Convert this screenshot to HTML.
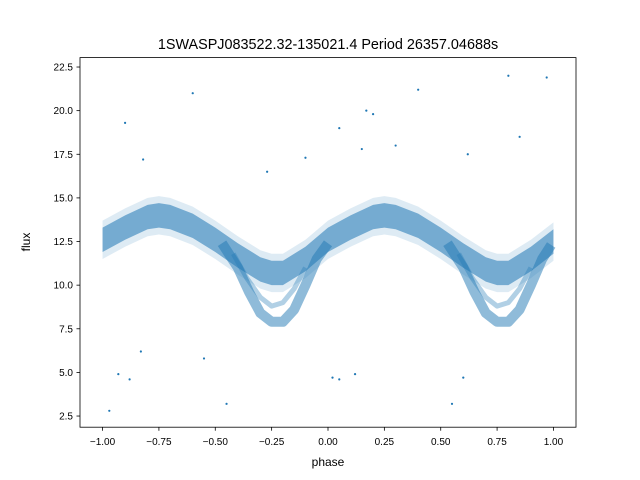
<!DOCTYPE html>
<html><head><meta charset="utf-8">
<style>
body{margin:0;background:#fff;}
svg{display:block;font-family:"Liberation Sans","DejaVu Sans",sans-serif;}
</style></head>
<body>
<svg id="chart" width="640" height="480" viewBox="0 0 640 480">
<rect width="640" height="480" fill="#fff"/>
<text x="328" y="49" font-size="14.4" text-anchor="middle">1SWASPJ083522.32-135021.4 Period 26357.04688s</text>
<defs><clipPath id="clip"><rect x="80" y="57.6" width="496" height="369.6"/></clipPath></defs>
<g id="marks" clip-path="url(#clip)"></g>
<rect x="80" y="57.6" width="496" height="369.6" fill="none" stroke="#000" stroke-width="0.8"/>
<g id="xaxis"></g>
<g id="yaxis"></g>
<text x="328" y="466" font-size="12" text-anchor="middle">phase</text>
<text x="0" y="0" font-size="12" text-anchor="middle" transform="translate(30,242) rotate(-90)">flux</text>
</svg>
<script>
const xTicks=[-1.0,-0.75,-0.5,-0.25,0.0,0.25,0.5,0.75,1.0];
const xTickLabels=["−1.00","−0.75","−0.50","−0.25","0.00","0.25","0.50","0.75","1.00"];
const yTicks=[2.5,5.0,7.5,10.0,12.5,15.0,17.5,20.0,22.5];
const yTickLabels=["2.5","5.0","7.5","10.0","12.5","15.0","17.5","20.0","22.5"];
const upperPhase=[-1.0,-0.9,-0.8,-0.75,-0.7,-0.6,-0.5,-0.4,-0.3,-0.25,-0.2,-0.1,0.0,0.1,0.2,0.25,0.3,0.4,0.5,0.6,0.7,0.75,0.8,0.9,1.0];
const upperFlux=[12.6,13.3,13.9,14.0,13.9,13.4,12.6,11.7,10.9,10.7,10.7,11.5,12.6,13.3,13.9,14.0,13.9,13.4,12.6,11.7,10.9,10.7,10.7,11.5,12.5];
const lowerPhaseA=[-0.47,-0.4,-0.35,-0.3,-0.25,-0.2,-0.15,-0.1,-0.05,0.0];
const lowerFluxA=[12.4,11.0,9.6,8.4,7.9,7.9,8.6,10.0,11.5,12.4];
const lowerPhaseB=[0.53,0.6,0.65,0.7,0.75,0.8,0.85,0.9,0.95,0.99];
const lowerFluxB=[12.4,11.0,9.6,8.4,7.9,7.9,8.6,10.0,11.5,12.3];
const midPhaseA=[-0.42,-0.36,-0.3,-0.25,-0.2,-0.15,-0.1];
const midFluxA=[11.8,10.4,9.3,8.8,9.0,9.8,11.0];
const midPhaseB=[0.58,0.64,0.7,0.75,0.8,0.85,0.9];
const midFluxB=[11.8,10.4,9.3,8.8,9.0,9.8,11.0];
const outPhase=[-0.97,-0.9,-0.88,-0.82,-0.6,-0.45,-0.27,-0.1,0.02,0.05,0.12,0.15,0.2,0.3,0.4,0.55,0.6,0.8,0.85,0.97,-0.93,-0.83,0.05,0.17,-0.55,0.62];
const outFlux=[2.8,19.3,4.6,17.2,21.0,3.2,16.5,17.3,4.7,19.0,4.9,17.8,19.8,18.0,21.2,3.2,4.7,22.0,18.5,21.9,4.9,6.2,4.6,20.0,5.8,17.5];
const X0=-1.1,X1=1.1,Y0=1.86,Y1=23.04;
const xs=v=>80+(v-X0)/(X1-X0)*496;
const ys=v=>427.2-(v-Y0)/(Y1-Y0)*369.6;
const NS="http://www.w3.org/2000/svg";
const marks=document.getElementById('marks');
function area(ph,fl,half,op,name){
  const top=ph.map((v,i)=>xs(v)+','+ys(fl[i]+half));
  const bot=ph.map((v,i)=>xs(v)+','+ys(fl[i]-half)).reverse();
  const p=document.createElementNS(NS,'polygon');
  p.setAttribute('points',top.concat(bot).join(' '));
  p.setAttribute('fill','#1f77b4');p.setAttribute('fill-opacity',op);
  
  
  marks.appendChild(p);
}
function band(ph,fl,w,op,name){
  const p=document.createElementNS(NS,'polyline');
  p.setAttribute('points',ph.map((v,i)=>xs(v)+','+ys(fl[i])).join(' '));
  p.setAttribute('fill','none');p.setAttribute('stroke','#1f77b4');
  p.setAttribute('stroke-width',w);p.setAttribute('stroke-opacity',op);
  p.setAttribute('stroke-linejoin','round');p.setAttribute('stroke-linecap','butt');
  
  
  marks.appendChild(p);
}
area(upperPhase,upperFlux,1.1,0.15,'upper-band-halo');
area(upperPhase,upperFlux,0.7,0.55,'upper-band');
band(lowerPhaseA,lowerFluxA,10,0.5,'lower-branch-a');
band(lowerPhaseB,lowerFluxB,10,0.5,'lower-branch-b');
band(midPhaseA,midFluxA,5,0.35,'middle-branch-a');
band(midPhaseB,midFluxB,5,0.35,'middle-branch-b');
outPhase.forEach((v,i)=>{
  const c=document.createElementNS(NS,'circle');
  c.setAttribute('cx',xs(v));c.setAttribute('cy',ys(outFlux[i]));c.setAttribute('r',1.1);
  c.setAttribute('fill','#1f77b4');
  
  
  marks.appendChild(c);
});
const xa=document.getElementById('xaxis');
xTicks.forEach((v,i)=>{
  const x=xs(v);
  const l=document.createElementNS(NS,'line');
  l.setAttribute('x1',x);l.setAttribute('x2',x);l.setAttribute('y1',427.2);l.setAttribute('y2',430.7);
  l.setAttribute('stroke','#000');l.setAttribute('stroke-width',0.8);
  
  
  xa.appendChild(l);
  const t=document.createElementNS(NS,'text');
  t.setAttribute('x',x);t.setAttribute('y',445);t.setAttribute('font-size',10);t.setAttribute('text-anchor','middle');
  t.textContent=xTickLabels[i];
  
  
  xa.appendChild(t);
});
const ya=document.getElementById('yaxis');
yTicks.forEach((v,i)=>{
  const y=ys(v);
  const l=document.createElementNS(NS,'line');
  l.setAttribute('x1',76.5);l.setAttribute('x2',80);l.setAttribute('y1',y);l.setAttribute('y2',y);
  l.setAttribute('stroke','#000');l.setAttribute('stroke-width',0.8);
  
  
  ya.appendChild(l);
  const t=document.createElementNS(NS,'text');
  t.setAttribute('x',73);t.setAttribute('y',y+3.5);t.setAttribute('font-size',10);t.setAttribute('text-anchor','end');
  t.textContent=yTickLabels[i];
  
  
  ya.appendChild(t);
});
</script>
</body></html>
